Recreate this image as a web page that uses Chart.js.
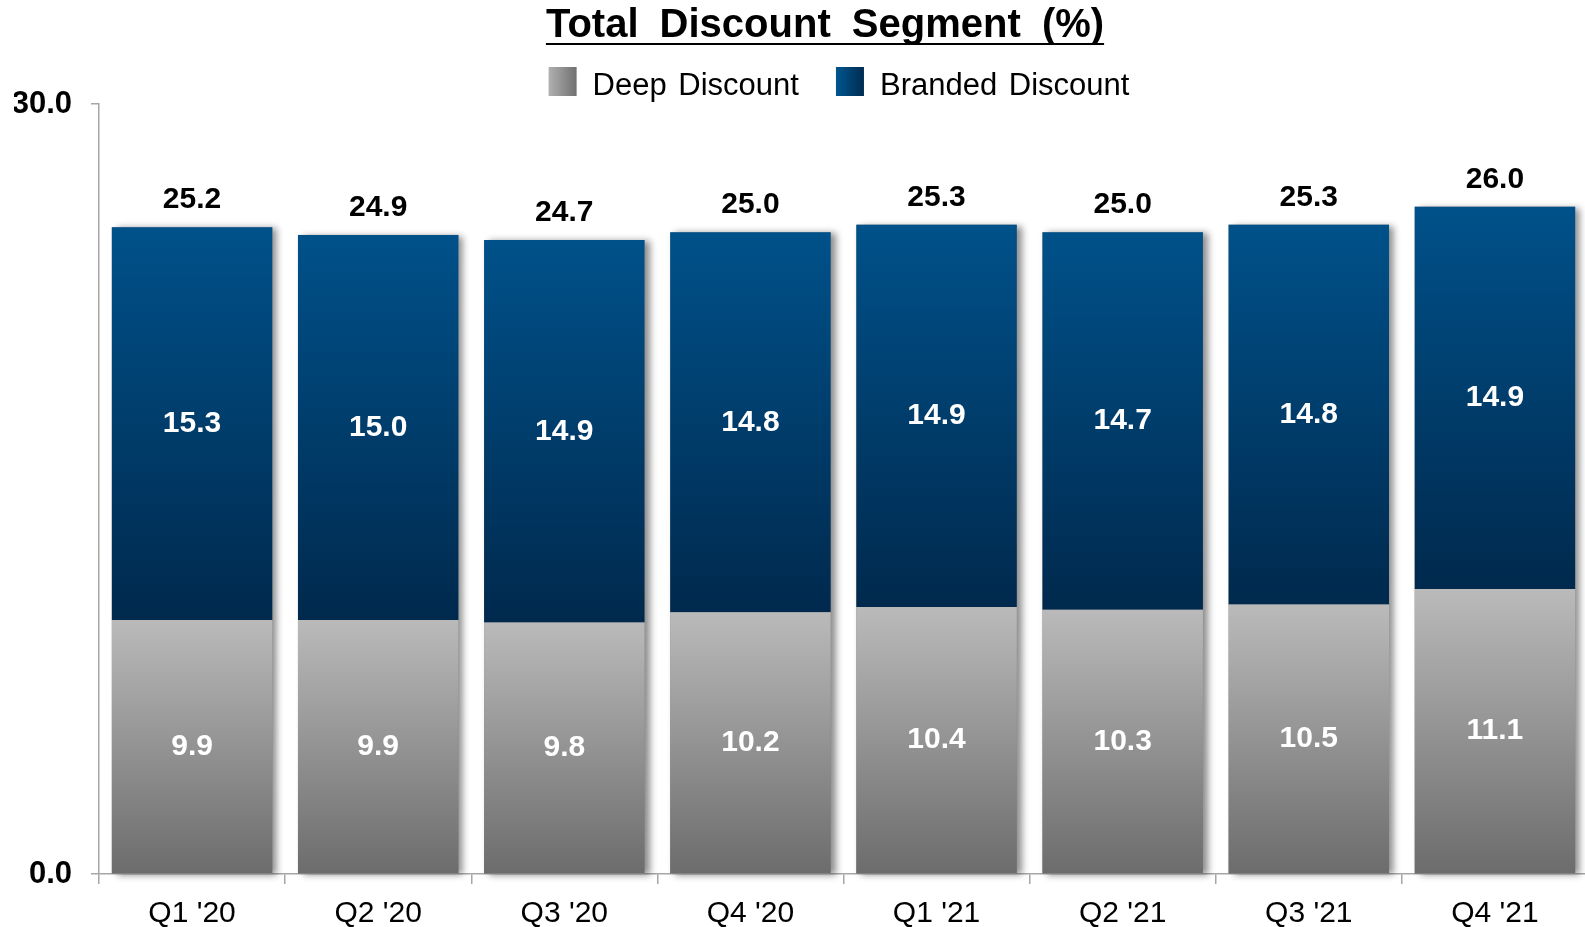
<!DOCTYPE html>
<html>
<head>
<meta charset="utf-8">
<title>Total Discount Segment (%)</title>
<script src="https://cdn.jsdelivr.net/npm/chart.js@4/dist/chart.umd.min.js"></script>
<style>
    html, body { margin: 0; padding: 0; background: #fff; overflow: hidden; }
    #wrap { width: 1600px; height: 944px; }
</style>
</head>
<body>
<div id="wrap"><canvas id="discountChart" width="1600" height="944"></canvas></div>
<script>
// Part du segment discount par trimestre (%)
const trimestres = ["Q1 '20", "Q2 '20", "Q3 '20", "Q4 '20", "Q1 '21", "Q2 '21", "Q3 '21", "Q4 '21"];
const deepDiscount = [9.9, 9.9, 9.8, 10.2, 10.4, 10.3, 10.5, 11.1];
const brandedDiscount = [15.3, 15.0, 14.9, 14.8, 14.9, 14.7, 14.8, 14.9];
const totalDiscount = [25.2, 24.9, 24.7, 25.0, 25.3, 25.0, 25.3, 26.0];
const axeY = { min: 0, max: 30, pas: 30 };

const FONT = "'Liberation Sans', Arial, sans-serif";
const titre = 'Total Discount Segment (%)';

const couleurs = {
    deep: ['#bababa', '#6c6c6c'],
    branded: ['#00518a', '#00294d']
};

// Dégradé vertical propre à chaque segment de barre
function degradeSegment(cle, bas, haut) {
    return function (context) {
        const chart = context.chart;
        if (!chart.chartArea || context.type !== 'data') return couleurs[cle][0];
        const i = context.dataIndex;
        const y = chart.scales.y;
        const yHaut = y.getPixelForValue(haut[i]);
        const yBas = y.getPixelForValue(bas ? bas[i] : 0);
        const g = chart.ctx.createLinearGradient(0, yHaut, 0, yBas);
        g.addColorStop(0, couleurs[cle][0]);
        g.addColorStop(1, couleurs[cle][1]);
        return g;
    };
}

// Ombre portée derrière chaque pile
const ombreBarres = {
    id: 'ombreBarres',
    beforeDatasetsDraw(chart) {
        const ctx = chart.ctx;
        const haut = chart.getDatasetMeta(chart.data.datasets.length - 1).data;
        const zero = chart.scales.y.getPixelForValue(0);
        ctx.save();
        ctx.shadowColor = 'rgba(0, 0, 0, 0.45)';
        ctx.shadowBlur = 7;
        ctx.shadowOffsetX = 5;
        ctx.shadowOffsetY = 1;
        ctx.fillStyle = '#888';
        haut.forEach(el => {
            ctx.fillRect(el.x - el.width / 2, el.y, el.width, zero - el.y);
        });
        ctx.restore();
    }
};

// Valeurs dans les segments et total au-dessus
const etiquettes = {
    id: 'etiquettes',
    afterDatasetsDraw(chart) {
        const ctx = chart.ctx;
        ctx.save();
        ctx.textAlign = 'center';
        ctx.textBaseline = 'middle';
        ctx.fillStyle = '#fff';
        ctx.font = `bold 30px ${FONT}`;
        chart.data.datasets.forEach((ds, d) => {
            chart.getDatasetMeta(d).data.forEach((el, i) => {
                ctx.fillText(ds.data[i].toFixed(1), el.x, (el.y + el.base) / 2);
            });
        });
        const haut = chart.getDatasetMeta(chart.data.datasets.length - 1).data;
        ctx.fillStyle = '#000';
        ctx.textBaseline = 'alphabetic';
        haut.forEach((el, i) => {
            ctx.fillText(totalDiscount[i].toFixed(1), el.x, el.y - 19);
        });
        ctx.restore();
    }
};

// Titre souligné et légende avec carrés en dégradé
const entete = {
    id: 'entete',
    afterDraw(chart) {
        const ctx = chart.ctx;
        ctx.save();
        ctx.font = `bold 40px ${FONT}`;
        ctx.wordSpacing = '10px';
        ctx.textAlign = 'center';
        ctx.fillStyle = '#000';
        const cx = 825;
        ctx.fillText(titre, cx, 37);
        const w = ctx.measureText(titre).width;
        ctx.fillRect(cx - w / 2, 43, w, 2);

        ctx.font = `31px ${FONT}`;
        ctx.wordSpacing = '3px';
        ctx.textAlign = 'left';
        const cote = 29, ecart = 15, espace = 37;
        const items = chart.data.datasets.map(ds => ({
            label: ds.label,
            cle: ds.cle,
            w: cote + ecart + ctx.measureText(ds.label).width
        }));
        const total = items.reduce((s, it) => s + it.w, 0) + espace * (items.length - 1);
        let x = 839 - total / 2;
        items.forEach(it => {
            const g = ctx.createLinearGradient(x, 0, x + cote, 0);
            g.addColorStop(0, it.cle === 'deep' ? '#b0b0b0' : '#00568f');
            g.addColorStop(1, it.cle === 'deep' ? '#6e6e6e' : '#002a4f');
            ctx.fillStyle = g;
            ctx.fillRect(x, 67, cote - 1, cote);
            ctx.fillStyle = '#000';
            ctx.fillText(it.label, x + cote + ecart, 95);
            x += it.w + espace;
        });
        ctx.restore();
    }
};

function createDiscountChart() {
    const ctx = document.getElementById('discountChart').getContext('2d');
    new Chart(ctx, {
        type: 'bar',
        data: {
            labels: trimestres,
            datasets: [{
                label: 'Deep Discount',
                cle: 'deep',
                data: deepDiscount,
                backgroundColor: degradeSegment('deep', null, deepDiscount)
            }, {
                label: 'Branded Discount',
                cle: 'branded',
                data: brandedDiscount,
                backgroundColor: degradeSegment('branded', deepDiscount, totalDiscount)
            }]
        },
        options: {
            responsive: false,
            animation: false,
            events: [],
            layout: { padding: { top: 104, left: 14, right: 12, bottom: 0 } },
            datasets: {
                bar: { categoryPercentage: 1, barPercentage: 0.862, borderWidth: 0 }
            },
            plugins: {
                legend: { display: false },
                title: { display: false },
                tooltip: { enabled: false }
            },
            scales: {
                x: {
                    stacked: true,
                    grid: { drawOnChartArea: false, tickLength: 10, color: '#a6a6a6', lineWidth: 1.5 },
                    border: { color: '#a6a6a6', width: 1.5 },
                    ticks: { color: '#000', padding: 15, font: { family: FONT, size: 30, lineHeight: 1 } }
                },
                y: {
                    stacked: true,
                    min: axeY.min,
                    max: axeY.max,
                    afterFit(scale) { scale.width = 85; },
                    grid: { drawOnChartArea: false, tickLength: 8, color: '#a6a6a6', lineWidth: 1.5 },
                    border: { color: '#a6a6a6', width: 1.5 },
                    ticks: {
                        stepSize: axeY.pas,
                        color: '#000',
                        padding: 19,
                        font: { family: FONT, size: 31, weight: 'bold' },
                        callback: v => v.toFixed(1)
                    }
                }
            }
        },
        plugins: [ombreBarres, etiquettes, entete]
    });
}

document.addEventListener('DOMContentLoaded', createDiscountChart);
</script>
</body>
</html>
